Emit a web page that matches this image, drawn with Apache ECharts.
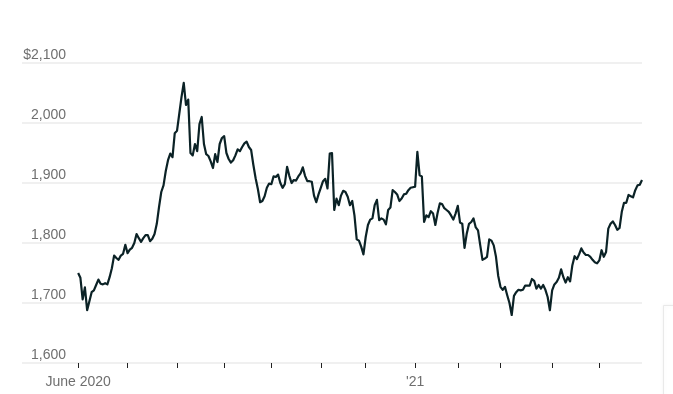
<!DOCTYPE html>
<html>
<head>
<meta charset="utf-8">
<script src="https://cdn.jsdelivr.net/npm/echarts@6/dist/echarts.min.js"></script>
<style>
  html, body { margin: 0; padding: 0; background: #fff; }
  #chart { width: 673px; height: 394px; }
</style>
</head>
<body>
<div id="chart"></div>
<script>
// Axis calendar: NYSE trading days (axis starts a little before the data)
const axisStart = '2020-04-24';
const axisEnd = '2021-05-28';
const dataStart = '2020-06-01';
const holidays = ['2020-05-25', '2020-07-03', '2020-09-07', '2020-11-26', '2020-12-25',
                  '2021-01-01', '2021-01-18', '2021-02-15', '2021-04-02'];

// Y axis ticks
const yTicks = [1600, 1700, 1800, 1900, 2000, 2100];

// Gold price, $ per ounce, one value per trading day from 2020-06-01
const prices = [
  1750, 1742, 1706, 1726, 1688, 1703, 1718, 1721, 1730, 1739,
  1732, 1731, 1733, 1731, 1743, 1758, 1779, 1775, 1772, 1779,
  1782, 1797, 1783, 1789, 1792, 1800, 1815, 1808, 1802, 1808,
  1813, 1813, 1803, 1807, 1815, 1832, 1860, 1885, 1896, 1920,
  1938, 1949, 1943, 1983, 1987, 2015, 2043, 2067, 2030, 2039,
  1950, 1946, 1965, 1953, 1998, 2010, 1965, 1948, 1945, 1936,
  1925, 1948, 1935, 1965, 1975, 1978, 1950, 1940, 1934, 1938,
  1946, 1956, 1953, 1960, 1966, 1969, 1960, 1955, 1930, 1908,
  1890, 1868, 1870, 1878, 1892, 1899, 1898, 1911, 1910, 1914,
  1900, 1892, 1898, 1927, 1912, 1900, 1905, 1904, 1911, 1916,
  1926, 1912, 1903, 1903, 1902, 1879, 1868, 1881, 1892, 1903,
  1907, 1891, 1949, 1950, 1855, 1874, 1863, 1879, 1887, 1885,
  1877, 1863, 1870, 1846, 1806, 1804, 1794, 1781, 1810, 1830,
  1839, 1841, 1863, 1872, 1838, 1841, 1839, 1831, 1855, 1859,
  1888, 1885, 1881, 1870, 1874, 1881, 1882, 1888, 1892, 1893,
  1894, 1952, 1913, 1911, 1835, 1846, 1843, 1853, 1849, 1830,
  1850, 1866, 1865, 1858, 1855, 1852, 1846, 1839, 1849, 1862,
  1834, 1832, 1792, 1816, 1832, 1835, 1841, 1826, 1821, 1796,
  1772, 1774, 1777, 1806, 1804, 1796, 1777, 1745, 1727, 1722,
  1727, 1713, 1700, 1680, 1712, 1718, 1722, 1721, 1722, 1729,
  1729, 1729, 1740, 1737, 1724, 1730, 1724, 1730, 1722, 1710,
  1688, 1721, 1731, 1735, 1742, 1756, 1743, 1734, 1743, 1736,
  1763, 1778, 1773, 1781, 1791, 1784, 1780, 1780, 1777, 1772,
  1768, 1766, 1771, 1788, 1777, 1785, 1824, 1832, 1836, 1830,
  1822, 1825, 1852, 1867, 1867, 1880, 1878, 1876, 1888, 1896,
  1897, 1905
];

// Build trading-day categories
function tradingDays(from, to, hol) {
  const out = [];
  const d = new Date(from + 'T00:00:00Z');
  const end = new Date(to + 'T00:00:00Z');
  while (d <= end) {
    const wd = d.getUTCDay();
    const s = d.toISOString().slice(0, 10);
    if (wd !== 0 && wd !== 6 && hol.indexOf(s) < 0) out.push(s);
    d.setUTCDate(d.getUTCDate() + 1);
  }
  return out;
}
const categories = tradingDays(axisStart, axisEnd, holidays);
const dataDays = categories.filter(s => s >= dataStart);
const seriesData = prices.map((p, i) => [dataDays[i], p]);

function isMonthStart(index) {
  const s = categories[index];
  if (!s || s < dataStart) return false;
  if (index === 0) return true;
  return categories[index - 1].slice(0, 7) !== s.slice(0, 7);
}
function xLabel(s) {
  if (s === dataStart) return 'June 2020';
  if (s.slice(5, 7) === '01') return "'" + s.slice(2, 4);
  return '';
}

const chart = echarts.init(document.getElementById('chart'), null, { renderer: 'canvas' });
chart.setOption({
  animation: false,
  backgroundColor: '#ffffff',
  textStyle: { fontFamily: '"Liberation Sans", Arial, sans-serif' },
  grid: { left: 22, right: 31, top: 63, bottom: 31, containLabel: false },
  xAxis: {
    type: 'category',
    data: categories,
    boundaryGap: false,
    axisLine: { show: false },
    axisTick: {
      show: true,
      interval: (i) => isMonthStart(i),
      length: 5,
      lineStyle: { color: '#222222', width: 1 }
    },
    axisLabel: {
      interval: (i) => isMonthStart(i),
      formatter: (v) => xLabel(v),
      color: '#6f6f6f',
      fontSize: 14,
      margin: 12,
      fontFamily: '"Liberation Sans", Arial, sans-serif'
    },
    splitLine: { show: false }
  },
  yAxis: {
    type: 'value',
    min: yTicks[0],
    max: yTicks[yTicks.length - 1],
    interval: 100,
    axisLine: { show: false },
    axisTick: { show: false },
    axisLabel: {
      inside: true,
      align: 'right',
      verticalAlign: 'bottom',
      margin: 44,
      padding: [0, 0, 1, 0],
      color: '#6f6f6f',
      fontSize: 14,
      fontFamily: '"Liberation Sans", Arial, sans-serif',
      formatter: (v) => (v === yTicks[yTicks.length - 1] ? '$' : '') + v.toLocaleString('en-US')
    },
    splitLine: { show: true, lineStyle: { color: '#ebebeb', width: 1.5 } }
  },
  series: [{
    type: 'line',
    data: seriesData,
    showSymbol: false,
    symbol: 'none',
    lineStyle: { color: '#0b2226', width: 2.2, join: 'round' },
    z: 3
  }],
  graphic: [{
    type: 'rect',
    left: 663, top: 305,
    shape: { width: 30, height: 100 },
    style: { fill: '#ffffff', stroke: '#e9e9e9', lineWidth: 1, shadowBlur: 4, shadowColor: 'rgba(0,0,0,0.06)' },
    silent: true
  }]
});
</script>
</body>
</html>
